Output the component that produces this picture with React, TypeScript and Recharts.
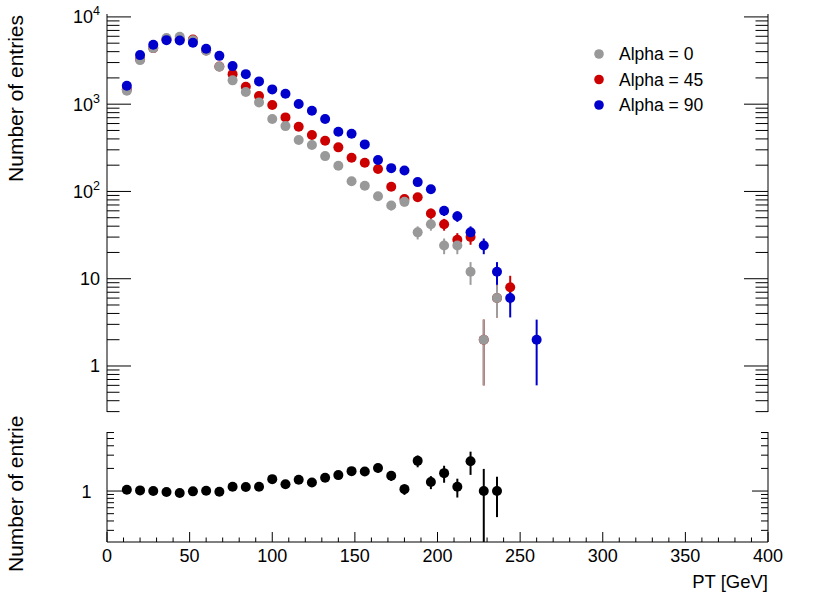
import React from 'react';
import { ScatterChart, Scatter, XAxis, YAxis, ErrorBar, Legend } from 'recharts';

const FONT = '"Liberation Sans", Arial, Helvetica, sans-serif';
const GRAY = '#999999';
const GRAY_ERR = '#a09c9c';
const RED = '#cc0000';
const BLUE = '#0000cc';

const binCenters = [12, 20, 28, 36, 44, 52, 60, 68, 76, 84, 92, 100, 108, 116, 124, 132, 140, 148, 156, 164, 172, 180, 188, 196, 204, 212, 220, 228, 236, 244, 252, 260];

const alpha0Counts = [1425, 3200, 4390, 5720, 5920, 5400, 4090, 2680, 1875, 1376, 1048, 675, 561, 388, 340, 254, 197, 131, 116, 88, 69, 76, 34, 42, 24, 24, 12, 2, 6, null, null, null];
const alpha0Errors = [37.7, 56.6, 66.3, 75.6, 76.9, 73.5, 64, 51.8, 43.3, 37.1, 32.4, 26, 23.7, 19.7, 18.4, 15.9, 14, 11.4, 10.8, 9.4, 8.3, 8.7, 5.8, 6.5, 4.9, 4.9, 3.5, 1.4, 2.4, null, null, null];

const alpha45Counts = [1482, 3264, 4390, 5550, 5565, 5520, 4130, 2700, 2210, 1585, 1238, 977, 706, 551, 443, 381, 320, 243, 213, 181, 113, 82, 86, 56, 42, 28, 30, 2, 6, 8, null, null];
const alpha45Errors = [38.5, 57.1, 66.3, 74.5, 74.6, 74.3, 64.3, 52, 47, 39.8, 35.2, 31.3, 26.6, 23.5, 21, 19.5, 17.9, 15.6, 14.6, 13.5, 10.6, 9.1, 9.3, 7.5, 6.5, 5.3, 5.5, 1.4, 2.4, 2.8, null, null];

const alpha90Counts = [1625, 3650, 4790, 5420, 5380, 5050, 4310, 3580, 2730, 2210, 1825, 1477, 1318, 1003, 841, 675, 483, 458, 346, 229, 185, 174, 128, 106, 60, 52, 34, 24, 12, 6, null, 2];
const alpha90Errors = [40.3, 60.4, 69.2, 73.6, 73.3, 71.1, 65.7, 59.8, 52.2, 47, 42.7, 38.4, 36.3, 31.7, 29, 26, 22, 21.4, 18.6, 15.1, 13.6, 13.2, 11.3, 10.3, 7.7, 7.2, 5.8, 4.9, 3.5, 2.4, null, 1.4];

const ratioValues = [1.04, 1.02, 1.0, 0.97, 0.94, 0.99, 1.01, 0.98, 1.14, 1.13, 1.14, 1.44, 1.23, 1.41, 1.3, 1.5, 1.63, 1.84, 1.82, 2.02, 1.6, 1.06, 2.52, 1.32, 1.73, 1.14, 2.49, 1.0, 1.0, null, null, null];
// [down, up] extents; the 228 GeV bar runs off the bottom of the frame
const ratioErrors: any[] = [0.04, 0.03, 0.03, 0.03, 0.03, 0.03, 0.03, 0.04, 0.04, 0.05, 0.06, 0.07, 0.08, 0.1, 0.1, 0.12, 0.15, 0.2, 0.2, 0.26, 0.24, 0.17, 0.45, 0.26, 0.44, 0.32, 0.85, [0.79, 0.97], 0.55, null, null, null];

const xTicks = [0, 10, 20, 30, 40, 50, 60, 70, 80, 90, 100, 110, 120, 130, 140, 150, 160, 170, 180, 190, 200, 210, 220, 230, 240, 250, 260, 270, 280, 290, 300, 310, 320, 330, 340, 350, 360, 370, 380, 390, 400];
const xMajorTicks = [0, 50, 100, 150, 200, 250, 300, 350, 400];
const xTickLabels = ['0', '50', '100', '150', '200', '250', '300', '350', '400'];

const topYTicks = [0.3, 0.4, 0.5, 0.6, 0.7, 0.8, 0.9, 1, 2, 3, 4, 5, 6, 7, 8, 9, 10, 20, 30, 40, 50, 60, 70, 80, 90, 100, 200, 300, 400, 500, 600, 700, 800, 900, 1000, 2000, 3000, 4000, 5000, 6000, 7000, 8000, 9000, 10000];
const topYMajor = [1, 10, 100, 1000, 10000];
const topYLabelBase = ['1', '10', '10', '10', '10'];
const topYLabelExp = ['', '', '2', '3', '4'];

const ratioYTicks = [0.3, 0.4, 0.5, 0.6, 0.7, 0.8, 0.9, 1, 2, 3, 4, 5, 6];
const ratioYMajor = [1];
const ratioYLabels = ['1'];

const legendNames = ['Alpha = 0', 'Alpha = 45', 'Alpha = 90'];
const legendColors = [GRAY, RED, BLUE];

const toPoints = (vals: (number | null)[], errs: any[]) =>
  binCenters
    .map((x, i) => ({ x, y: vals[i], err: errs[i] }))
    .filter((p) => p.y != null);

const alpha0Data = toPoints(alpha0Counts, alpha0Errors);
const alpha45Data = toPoints(alpha45Counts, alpha45Errors);
const alpha90Data = toPoints(alpha90Counts, alpha90Errors);
const ratioData = toPoints(ratioValues, ratioErrors);

const dot = (color: string) => (props: any) => (
  <circle cx={props.cx} cy={props.cy} r={5} fill={color} />
);

const xTick = (dir: number, majorLen: number, minorLen: number, withLabels: boolean) => (props: any) => {
  const { x, y, payload } = props;
  const i = xMajorTicks.indexOf(payload.value);
  const len = i >= 0 ? majorLen : minorLen;
  return (
    <g>
      <line x1={x} x2={x} y1={y} y2={y + dir * len} stroke="#000" strokeWidth={1} />
      {withLabels && i >= 0 && (
        <text x={x} y={y + 19.7} textAnchor="middle" fontSize={18} fontFamily={FONT} fill="#000">
          {xTickLabels[i]}
        </text>
      )}
    </g>
  );
};

const topYTick = (dir: number, withLabels: boolean) => (props: any) => {
  const { x, y, payload } = props;
  const i = topYMajor.indexOf(payload.value);
  const len = i >= 0 ? 24 : 12.5;
  return (
    <g>
      <line x1={x} x2={x + dir * len} y1={y} y2={y} stroke="#000" strokeWidth={1} />
      {withLabels && i >= 0 && (
        <text x={x - 7} y={y + 6.5} textAnchor="end" fontSize={18} fontFamily={FONT} fill="#000">
          {topYLabelBase[i]}
          {topYLabelExp[i] && (
            <tspan dy={-8} fontSize={12.5}>
              {topYLabelExp[i]}
            </tspan>
          )}
        </text>
      )}
    </g>
  );
};

const ratioYTick = (dir: number, withLabels: boolean) => (props: any) => {
  const { x, y, payload } = props;
  const i = ratioYMajor.indexOf(payload.value);
  const len = i >= 0 ? 16 : 7;
  return (
    <g>
      <line x1={x} x2={x + dir * len} y1={y} y2={y} stroke="#000" strokeWidth={1} />
      {withLabels && i >= 0 && (
        <text x={x - 15.5} y={y + 6.5} textAnchor="end" fontSize={18} fontFamily={FONT} fill="#000">
          {ratioYLabels[i]}
        </text>
      )}
    </g>
  );
};

const renderLegend = () => (
  <svg width={180} height={80} style={{ display: 'block' }}>
    {legendNames.map((name, i) => (
      <g key={name}>
        <circle cx={14} cy={14 + 25.5 * i} r={4.8} fill={legendColors[i]} />
        <text x={34} y={14 + 25.5 * i + 6.3} fontSize={17.5} fontFamily={FONT} fill="#000">
          {name}
        </text>
      </g>
    ))}
  </svg>
);

const topTitle = () => (
  <text x={23.3} y={15} transform="rotate(-90 23.3 15)" textAnchor="end" fontSize={21} fontFamily={FONT} fill="#000">
    Number of entries
  </text>
);

const bottomTitle = () => (
  <text x={23.3} y={157} transform="rotate(-90 23.3 157)" textAnchor="start" fontSize={21} fontFamily={FONT} fill="#000">
    Number of entries
  </text>
);

const xTitle = () => (
  <text x={768} y={173.3} textAnchor="end" fontSize={18.5} fontFamily={FONT} fill="#000">
    PT [GeV]
  </text>
);

const axisLine = { stroke: '#000', strokeWidth: 1 };

export default function App() {
  return (
    <div style={{ position: 'absolute', left: 0, top: 0, width: 830, height: 596, background: '#fff', fontFamily: FONT }}>
      <div style={{ position: 'absolute', left: 0, top: 0 }}>
        <ScatterChart width={830} height={415} margin={{ top: 14, right: 0, bottom: 3, left: 0 }}>
          <XAxis xAxisId="b" type="number" dataKey="x" domain={[0, 400]} allowDataOverflow ticks={xTicks} interval={0}
            height={0} tickSize={0} tickMargin={0} tickLine={false} axisLine={axisLine} tick={xTick(-1, 9.5, 4.7, false)} />
          <XAxis xAxisId="t" orientation="top" type="number" dataKey="x" domain={[0, 400]} allowDataOverflow ticks={xTicks} interval={0}
            height={0} tickSize={0} tickMargin={0} tickLine={false} axisLine={axisLine} tick={xTick(1, 9.5, 4.7, false)} />
          <YAxis yAxisId="l" type="number" dataKey="y" scale="log" domain={[0.297, 10800]} allowDataOverflow ticks={topYTicks} interval={0}
            width={107} tickSize={0} tickMargin={0} tickLine={false} axisLine={axisLine} tick={topYTick(1, true)} label={topTitle} />
          <YAxis yAxisId="r" orientation="right" type="number" dataKey="y" scale="log" domain={[0.297, 10800]} allowDataOverflow ticks={topYTicks} interval={0}
            width={62} tickSize={0} tickMargin={0} tickLine={false} axisLine={axisLine} tick={topYTick(-1, false)} />
          <Legend layout="vertical" align="center" verticalAlign="middle" content={renderLegend}
            wrapperStyle={{ position: 'absolute', left: 585, top: 40, width: 180, height: 80 }} />
          <Scatter name="Alpha = 45" data={alpha45Data} xAxisId="b" yAxisId="l" fill={RED} shape={dot(RED)} isAnimationActive={false}>
            <ErrorBar dataKey="err" direction="y" width={0} stroke={RED} strokeWidth={2} isAnimationActive={false} />
          </Scatter>
          <Scatter name="Alpha = 0" data={alpha0Data} xAxisId="b" yAxisId="l" fill={GRAY} shape={dot(GRAY)} isAnimationActive={false}>
            <ErrorBar dataKey="err" direction="y" width={0} stroke={GRAY_ERR} strokeWidth={2} isAnimationActive={false} />
          </Scatter>
          <Scatter name="Alpha = 90" data={alpha90Data} xAxisId="b" yAxisId="l" fill={BLUE} shape={dot(BLUE)} isAnimationActive={false}>
            <ErrorBar dataKey="err" direction="y" width={0} stroke={BLUE} strokeWidth={2} isAnimationActive={false} />
          </Scatter>
        </ScatterChart>
      </div>
      <div style={{ position: 'absolute', left: 0, top: 415 }}>
        <ScatterChart width={830} height={181} margin={{ top: 17, right: 0, bottom: 0, left: 0 }}>
          <XAxis xAxisId="b" type="number" dataKey="x" domain={[0, 400]} allowDataOverflow ticks={xTicks} interval={0}
            height={54} tickSize={0} tickMargin={0} tickLine={false} axisLine={axisLine} tick={xTick(-1, 10, 4.5, true)} label={xTitle} />
          <XAxis xAxisId="t" orientation="top" type="number" dataKey="x" domain={[0, 400]} allowDataOverflow ticks={xTicks} interval={0}
            height={0} tickSize={0} tickMargin={0} tickLine={false} axisLine={axisLine} tick={xTick(1, 8, 4, false)} />
          <YAxis yAxisId="l" type="number" dataKey="y" scale="log" domain={[0.21, 6.1]} allowDataOverflow ticks={ratioYTicks} interval={0}
            width={107} tickSize={0} tickMargin={0} tickLine={false} axisLine={axisLine} tick={ratioYTick(1, true)} label={bottomTitle} />
          <YAxis yAxisId="r" orientation="right" type="number" dataKey="y" scale="log" domain={[0.21, 6.1]} allowDataOverflow ticks={ratioYTicks} interval={0}
            width={62} tickSize={0} tickMargin={0} tickLine={false} axisLine={axisLine} tick={ratioYTick(-1, false)} />
          <Scatter name="ratio" data={ratioData} xAxisId="b" yAxisId="l" fill="#000" shape={dot('#000')} isAnimationActive={false}>
            <ErrorBar dataKey="err" direction="y" width={0} stroke="#000" strokeWidth={2} isAnimationActive={false} />
          </Scatter>
        </ScatterChart>
      </div>
    </div>
  );
}
